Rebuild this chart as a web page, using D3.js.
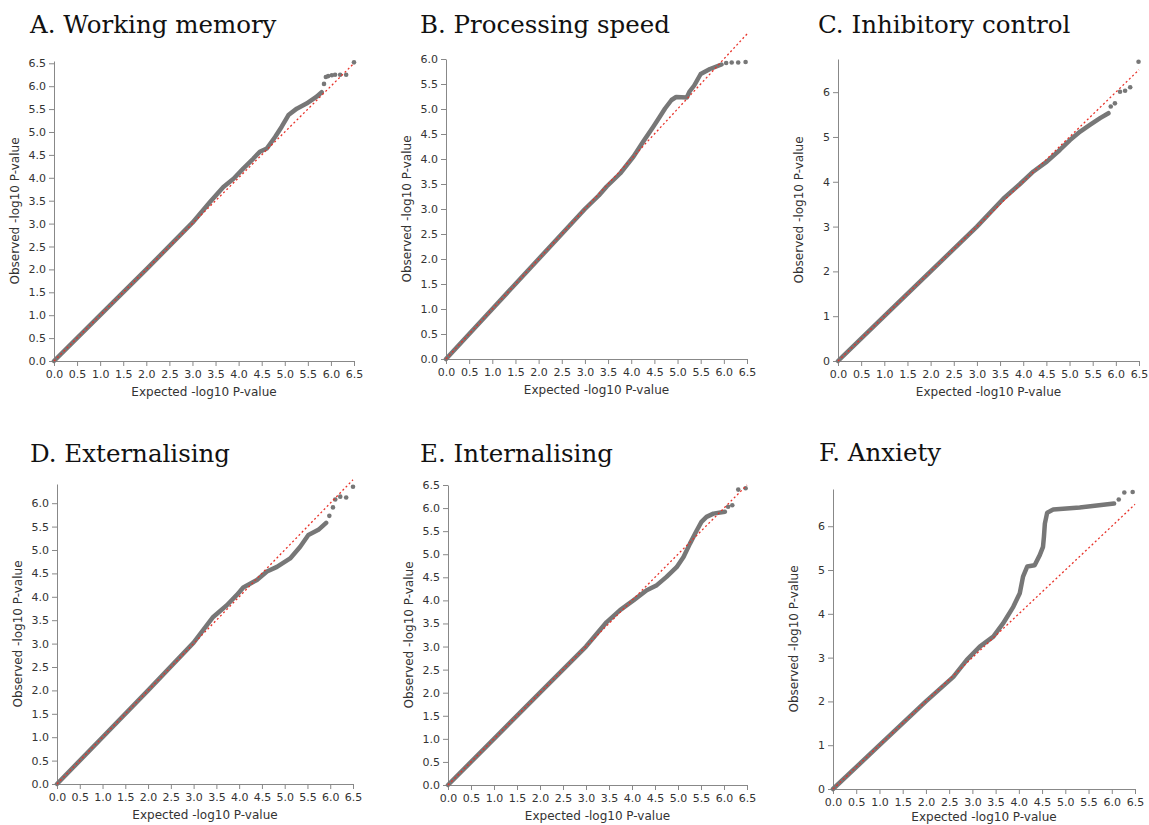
<!DOCTYPE html>
<html>
<head>
<meta charset="utf-8">
<script src="https://cdn.jsdelivr.net/npm/d3@7"></script>
<style>
    body { margin: 0; background: #fff; }
    .tick text { font-family: "DejaVu Sans", sans-serif; font-size: 11px; fill: #333; }
    .axis path, .axis line { stroke: #888; }
    .axisLabel { font-family: "DejaVu Sans", sans-serif; font-size: 12px; fill: #333; }
    .panelTitle { font-family: "DejaVu Serif", serif; font-size: 24.5px; fill: #111; }
</style>
</head>
<body>
<svg id="chart" width="1149" height="825"></svg>
<script>
// -- panel titles -- //
let titles = ["A. Working memory", "B. Processing speed", "C. Inhibitory control",
              "D. Externalising", "E. Internalising", "F. Anxiety"];

// -- tick labels -- //
let xTicks = [0, 0.5, 1, 1.5, 2, 2.5, 3, 3.5, 4, 4.5, 5, 5.5, 6, 6.5];
let yTicksHalf = [0, 0.5, 1, 1.5, 2, 2.5, 3, 3.5, 4, 4.5, 5, 5.5, 6, 6.5];
let yTicksInt = [0, 1, 2, 3, 4, 5, 6];
let yMax = [6.55, 6.0, 6.74, 6.41, 6.5, 6.85];

// -- dense part of each QQ curve (expected / observed -log10 p) -- //
let expA = [0, 1, 2, 3, 3.38, 3.67, 3.89, 4.1, 4.32, 4.46, 4.61, 4.79, 4.93, 5.08, 5.26, 5.47, 5.69, 5.8];
let obsA = [0, 1, 2, 3.02, 3.47, 3.8, 3.98, 4.2, 4.42, 4.57, 4.64, 4.89, 5.11, 5.37, 5.51, 5.62, 5.77, 5.87];
let expB = [0, 1, 2, 3, 3.3, 3.47, 3.76, 4.05, 4.26, 4.48, 4.62, 4.73, 4.87, 4.97, 5.2, 5.26, 5.36, 5.5, 5.7, 5.95];
let obsB = [0, 1, 2, 3, 3.27, 3.45, 3.71, 4.05, 4.35, 4.65, 4.85, 5.01, 5.18, 5.24, 5.23, 5.35, 5.47, 5.7, 5.8, 5.89];
let expC = [0, 1, 2, 3, 3.57, 3.93, 4.22, 4.51, 4.79, 5.01, 5.23, 5.44, 5.66, 5.84];
let obsC = [0, 1, 2, 3, 3.62, 3.95, 4.23, 4.45, 4.71, 4.93, 5.12, 5.27, 5.42, 5.53];
let expD = [0, 1, 2, 3, 3.43, 3.73, 3.95, 4.09, 4.39, 4.61, 4.83, 5.12, 5.34, 5.52, 5.74, 5.91];
let obsD = [0, 1, 2, 3.02, 3.57, 3.82, 4.04, 4.2, 4.36, 4.54, 4.64, 4.82, 5.07, 5.32, 5.43, 5.58];
let expE = [0, 1, 2, 3, 3.45, 3.74, 4.03, 4.32, 4.54, 4.75, 4.97, 5.12, 5.26, 5.41, 5.51, 5.62, 5.77, 6.02];
let obsE = [0, 1, 2, 3, 3.53, 3.79, 4.0, 4.22, 4.33, 4.51, 4.72, 4.94, 5.23, 5.52, 5.7, 5.81, 5.88, 5.92];
let expF = [0, 1, 2, 2.59, 2.88, 3.16, 3.45, 3.66, 3.88, 4.02, 4.09, 4.18, 4.34, 4.45, 4.52, 4.54, 4.56, 4.61, 4.74, 5.31, 6.05];
let obsF = [0, 1, 2, 2.56, 2.95, 3.25, 3.48, 3.78, 4.16, 4.47, 4.85, 5.08, 5.11, 5.34, 5.53, 5.76, 6.06, 6.31, 6.38, 6.43, 6.52];

// -- isolated top points -- //
let topExpA = [5.85, 5.89, 5.94, 6.02, 6.09, 6.2, 6.33, 6.5];
let topObsA = [6.05, 6.2, 6.22, 6.24, 6.25, 6.25, 6.25, 6.52];
let topExpB = [6.05, 6.17, 6.31, 6.47];
let topObsB = [5.92, 5.93, 5.93, 5.94];
let topExpC = [5.89, 5.98, 6.09, 6.2, 6.31, 6.49];
let topObsC = [5.68, 5.75, 6.01, 6.03, 6.11, 6.68];
let topExpD = [5.98, 6.06, 6.11, 6.22, 6.35, 6.5];
let topObsD = [5.73, 5.91, 6.08, 6.14, 6.12, 6.35];
let topExpE = [6.09, 6.18, 6.31, 6.47];
let topObsE = [6.03, 6.06, 6.4, 6.43];
let topExpF = [6.15, 6.27, 6.45];
let topObsF = [6.61, 6.77, 6.78];

let curves = [[expA, obsA], [expB, obsB], [expC, obsC], [expD, obsD], [expE, obsE], [expF, obsF]];
let tops = [[topExpA, topObsA], [topExpB, topObsB], [topExpC, topObsC],
            [topExpD, topObsD], [topExpE, topObsE], [topExpF, topObsF]];
let intTicks = [false, false, true, false, false, true];

// -- where each panel sits: x of 0, x of 6.5, y of 0, y of top; title position -- //
let layout = [
    {left: 54,  right: 354,  bottom: 361, top: 61,  tx: 30,  ty: 33},
    {left: 446, right: 747,  bottom: 359, top: 59,  tx: 420, ty: 33},
    {left: 838, right: 1139, bottom: 361, top: 59,  tx: 818, ty: 33},
    {left: 57,  right: 353,  bottom: 784, top: 484, tx: 30,  ty: 462},
    {left: 448, right: 747,  bottom: 785, top: 485, tx: 420, ty: 462},
    {left: 833, right: 1135, bottom: 789, top: 489, tx: 819, ty: 461}
];

let svg = d3.select("#chart");

let drawPanel = (i) => {
    let L = layout[i];
    let g = svg.append("g");
    let xScale = d3.scaleLinear().domain([0, 6.5]).range([L.left, L.right]);
    let yScale = d3.scaleLinear().domain([0, yMax[i]]).range([L.bottom, L.top]);

    // -- title -- //
    g.append("text")
        .attr("class", "panelTitle")
        .attr("x", L.tx)
        .attr("y", L.ty)
        .text(titles[i]);

    // -- axes -- //
    let xAxis = d3.axisBottom(xScale).tickValues(xTicks).tickFormat(d3.format(".1f")).tickSize(5).tickSizeOuter(0);
    let yAxis = d3.axisLeft(yScale).tickSize(5).tickSizeOuter(0);
    if (intTicks[i]) {
        yAxis.tickValues(yTicksInt).tickFormat(d3.format("d"));
    } else {
        yAxis.tickValues(yTicksHalf.filter(v => v <= yMax[i] + 1e-9)).tickFormat(d3.format(".1f"));
    }
    g.append("g")
        .attr("class", "axis")
        .attr("transform", `translate(0, ${L.bottom})`)
        .call(xAxis)
        .selectAll("text").attr("dy", "0.85em");
    g.append("g")
        .attr("class", "axis")
        .attr("transform", `translate(${L.left}, 0)`)
        .call(yAxis);

    // -- axis labels -- //
    g.append("text")
        .attr("class", "axisLabel")
        .attr("text-anchor", "middle")
        .attr("x", (L.left + L.right) / 2)
        .attr("y", Math.min(L.bottom + 35, 821))
        .text("Expected -log10 P-value");
    g.append("text")
        .attr("class", "axisLabel")
        .attr("text-anchor", "middle")
        .attr("transform", `translate(${L.left - 35}, ${(L.top + L.bottom) / 2}) rotate(-90)`)
        .text("Observed -log10 P-value");

    // -- dense points as a thick band -- //
    let pts = curves[i][0].map((e, k) => [e, curves[i][1][k]]);
    let line = d3.line().x(d => xScale(d[0])).y(d => yScale(d[1]));
    g.append("path")
        .datum(pts)
        .attr("d", line)
        .style("fill", "none")
        .style("stroke", "#777")
        .style("stroke-width", 4.5)
        .style("stroke-linecap", "round")
        .style("stroke-linejoin", "round");

    // -- isolated top points -- //
    let topPts = tops[i][0].map((e, k) => [e, tops[i][1][k]]);
    g.selectAll(".dot")
        .data(topPts)
        .enter()
        .append("circle")
        .attr("class", "dot")
        .attr("cx", d => xScale(d[0]))
        .attr("cy", d => yScale(d[1]))
        .attr("r", 2.3)
        .style("fill", "#777");

    // -- expected diagonal -- //
    g.append("line")
        .attr("x1", xScale(0)).attr("y1", yScale(0))
        .attr("x2", xScale(6.5)).attr("y2", yScale(6.5))
        .style("stroke", "#e8332a")
        .style("stroke-width", 1.3)
        .style("stroke-dasharray", "2,2.5");
};

for (let i = 0; i < 6; i++) drawPanel(i);
</script>
</body>
</html>
